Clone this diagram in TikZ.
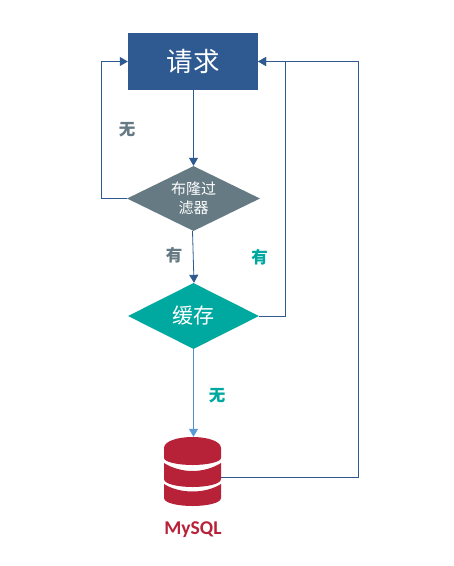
\documentclass[tikz,border=0pt]{standalone}
\usepackage{fontspec}
\setmainfont{Carlito}
\newfontfamily\cjk{Noto Sans CJK SC}
\usetikzlibrary{shapes.geometric,arrows.meta}
\definecolor{reqblue}{HTML}{2F5A91}
\definecolor{slategrey}{HTML}{667A84}
\definecolor{cachegreen}{HTML}{00A9A0}
\definecolor{dbred}{HTML}{B72239}
\definecolor{lightblue}{HTML}{5B9BD5}
\tikzset{
  x=1pt,y=-1pt,
  conn/.style={draw=reqblue,line width=0.8pt,-{Triangle[length=8pt,width=9pt]}},
  lightconn/.style={draw=lightblue!80!reqblue,line width=0.8pt,-{Triangle[length=8pt,width=9pt,color=lightblue]}},
  rectbox/.style={fill=reqblue,text=white,minimum width=130pt,minimum height=57pt,inner sep=0pt,font=\cjk\fontsize{26.5}{28}\selectfont},
  deci/.style={diamond,aspect=2,inner sep=0pt,text=white,align=center},
  lab/.style={inner sep=0pt,font=\cjk\bfseries\fontsize{16.5}{18}\selectfont},
  dblabel/.style={inner sep=0pt,text=dbred,font=\bfseries\fontsize{19.5}{21}\selectfont},
  dbpart/.style={fill=dbred,draw=none},
}
\begin{document}
\begin{tikzpicture}
\useasboundingbox (0,0) rectangle (454,566);
\fill[white] (0,0) rectangle (454,566);
\node[rectbox] (req) at (193,61.5) {请求};
\node[deci,fill=slategrey,minimum width=133pt,minimum height=65pt,font=\cjk\fontsize{15}{18.5}\selectfont] (bloom) at (193.5,198.5) {布隆过\\滤器};
\node[deci,fill=cachegreen,minimum width=131pt,minimum height=66pt,font=\cjk\fontsize{21}{24}\selectfont] (cache) at (193.5,316) {缓存};
\node[inner sep=0pt,minimum width=57pt,minimum height=69pt] (db) at (192.5,471.5) {};
% database
\fill[dbpart] (164,448) .. controls (164,441) and (178,437) .. (192.5,437) .. controls (207,437) and (221,441) .. (221,448) -- (221,458) .. controls (221,462) and (207,465) .. (192.5,465) .. controls (178,465) and (164,462) .. (164,458) -- cycle;
\fill[dbpart] (164,463) .. controls (172,468) and (182,471) .. (192.5,471) .. controls (203,471) and (213,468) .. (221,463) -- (221,479) .. controls (221,484) and (207,487) .. (192.5,487) .. controls (178,487) and (164,484) .. (164,479) -- cycle;
\fill[dbpart] (164,484) .. controls (172,489) and (182,491.5) .. (192.5,491.5) .. controls (203,491.5) and (213,489) .. (221,484) -- (221,498) .. controls (221,503) and (207,506) .. (192.5,506) .. controls (178,506) and (164,503) .. (164,498) -- cycle;
\node[dblabel] (mysql) at (193,530) {MySQL};
% connectors
\coordinate (leftcorner) at (101,198.5);
\coordinate (rightbus) at (285,61.5);
\coordinate (farbus) at (358,61.5);
\coordinate (dbout) at (221,477);
\draw[conn] (req.south -| bloom.north) -- (bloom.north);
\draw[conn] ([xshift=-1pt]bloom.south) -- ([xshift=0.5pt]cache.north);
\draw[conn] (bloom.west) -- (leftcorner) |- (req.west);
\draw[conn] (cache.east) -| (rightbus) -- (req.east);
\draw[conn] (dbout) -| (farbus) -- (req.east);
\draw[lightconn] (cache.south) -- (cache.south |- db.north);
% labels
\node[lab,text=slategrey] (l1) at (127,130) {无};
\node[lab,text=slategrey] (l2) at (174,255.5) {有};
\node[lab,text=cachegreen] (l3) at (259.5,257.5) {有};
\node[lab,text=cachegreen] (l4) at (217,396) {无};
\end{tikzpicture}
\end{document}
